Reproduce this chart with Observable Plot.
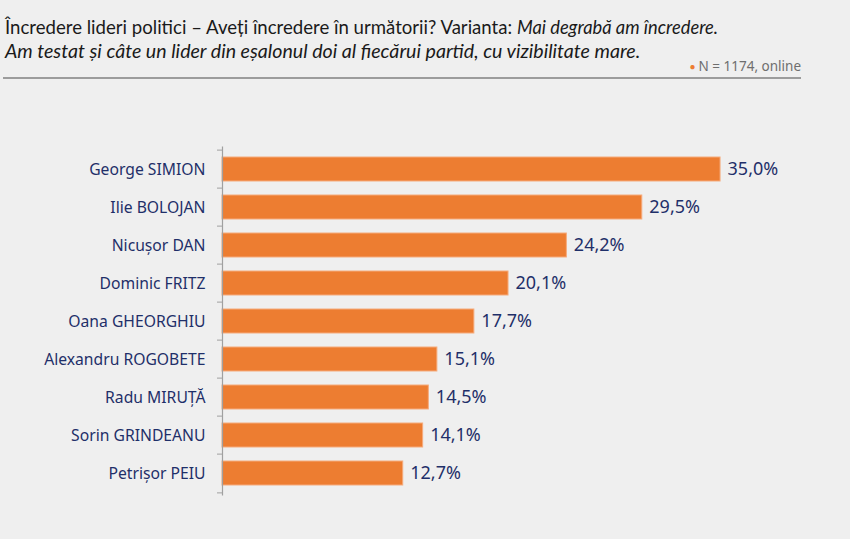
<!DOCTYPE html>
<html>
<head>
<meta charset="utf-8">
<script src="https://cdn.jsdelivr.net/npm/d3@7"></script>
<script src="https://cdn.jsdelivr.net/npm/@observablehq/plot@0.6"></script>
<style>
  html, body { margin: 0; padding: 0; background: #efefef; }
  #page { position: relative; width: 850px; height: 539px; overflow: hidden; background: #efefef; }
  #title { position: absolute; left: 5px; top: 15.5px; font-family: Lato, sans-serif; font-size: 18.6px; line-height: 23px; color: #1a1a1a; white-space: nowrap; }
  #title i { font-style: italic; font-size: 19.6px; }
  #title i.first { font-size: 18.3px; }
  #rule { position: absolute; left: 3px; top: 77px; width: 798px; height: 2px; background: #9c9c9c; }
  #note { position: absolute; right: 49px; top: 57px; font-family: "Noto Sans", sans-serif; font-size: 13.5px; color: #6e6e6e; white-space: nowrap; }
  #note .dot { color: #ED7D31; font-size: 10px; position: relative; top: -1px; margin-right: 3px; }
  #chart { position: absolute; left: 0; top: 80px; }
</style>
</head>
<body>
<div id="page">
  <div id="title">Încredere lideri politici – Aveți încredere în următorii? Varianta: <i class="first">Mai degrabă am încredere.</i><br><i>Am testat și câte un lider din eșalonul doi al fiecărui partid, cu vizibilitate mare.</i></div>
  <div id="note"><span class="dot">●</span>N = 1174, online</div>
  <div id="rule"></div>
  <div id="chart"></div>
</div>
<script>
const names = [
  "George SIMION",
  "Ilie BOLOJAN",
  "Nicușor DAN",
  "Dominic FRITZ",
  "Oana GHEORGHIU",
  "Alexandru ROGOBETE",
  "Radu MIRUȚĂ",
  "Sorin GRINDEANU",
  "Petrișor PEIU"
];
const values = [35.0, 29.5, 24.2, 20.1, 17.7, 15.1, 14.5, 14.1, 12.7];

const data = names.map((n, i) => ({name: n, value: values[i]}));
const navy = "#1f2f69";
const H = 459, mt = 66.6, mb = 43.6;
const step = (H - mt - mb) / names.length;
const fmt = d => d.value.toFixed(1).replace(".", ",") + "%";

const chart = Plot.plot({
  width: 850,
  height: H,
  marginTop: mt,
  marginBottom: mb,
  marginLeft: 222,
  marginRight: 58.8,
  style: {background: "transparent", fontFamily: "'Noto Sans', sans-serif", overflow: "visible"},
  x: {domain: [0, 40], axis: null},
  y: {domain: names, paddingInner: 0.38, paddingOuter: 0.19, axis: null},
  marks: [
    Plot.barX(data, {x: "value", y: "name", fill: "#ED7D31", stroke: "#f6ab7c", strokeWidth: 1}),
    Plot.ruleX([0], {stroke: "#a0a0a0", strokeWidth: 1.2}),
    Plot.axisY({tickSize: 0, tickPadding: 17, fontSize: 15.7, color: navy, label: null}),
    Plot.axisY({ticks: names, tickSize: 5, tickFormat: () => "", dy: -step / 2, stroke: "#a0a0a0", label: null}),
    Plot.axisY({ticks: [names[names.length - 1]], tickSize: 5, tickFormat: () => "", dy: step / 2, stroke: "#a0a0a0", label: null}),
    Plot.text(data, {x: "value", y: "name", text: fmt, textAnchor: "start", dx: 7, fill: navy, fontSize: 18})
  ]
});
document.getElementById("chart").appendChild(chart);
</script>
</body>
</html>
